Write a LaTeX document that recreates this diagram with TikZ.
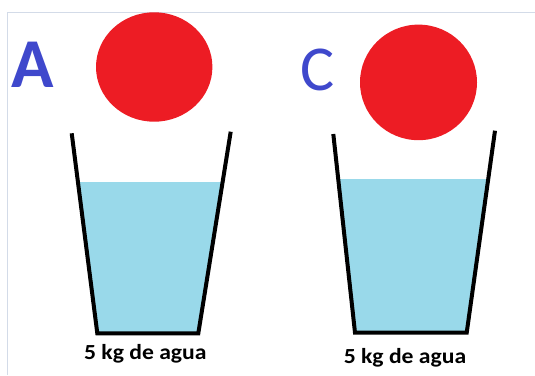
\documentclass[tikz,border=0pt]{standalone}
\usepackage{fontspec}
\setmainfont{Carlito}
\definecolor{ballred}{HTML}{ED1C24}
\definecolor{waterblue}{HTML}{99D9EA}
\definecolor{letterblue}{HTML}{3F48CC}
\definecolor{frameline}{HTML}{D3DBE8}
\tikzset{
  glassline/.style={draw=black,line width=4pt,line join=miter},
  ball/.style={fill=ballred},
  water/.style={fill=waterblue},
  bigletter/.style={text=letterblue,inner sep=0pt,anchor=base west},
  masslabel/.style={inner sep=0pt,anchor=base,font=\bfseries\fontsize{21.5}{21.5}\selectfont}
}
\newcommand{\masstext}{\scalebox{1.1}[1]{5 kg de agua}}
\begin{document}
\begin{tikzpicture}[x=1pt,y=-1pt]
\useasboundingbox (0,0) rectangle (535,375);
\draw[frameline,line width=1pt] (7.3,375) -- (7.3,12.3) -- (535,12.3);
% glass A
\coordinate (alt) at (71.7,133.3);
\coordinate (alb) at (97.3,333.3);
\coordinate (arb) at (198.3,333.3);
\coordinate (art) at (230.7,131.7);
\begin{scope}
\clip (0,182.3) rectangle (535,340);
\fill[water] (alt) -- (alb) -- (arb) -- (art) -- cycle;
\end{scope}
\draw[glassline] (alt) -- (alb) -- (arb) -- (art);
\fill[ball] (154.2,67) ellipse (58.2 and 54.7);
\node[bigletter,font=\bfseries\fontsize{70}{70}\selectfont] (letA) at (11.5,87.3) {A};
\node[masslabel] (massA) at (145.3,359) {\masstext};
% glass C
\coordinate (clt) at (333.3,134);
\coordinate (clb) at (355,332.7);
\coordinate (crb) at (466.7,332.7);
\coordinate (crt) at (495,130.7);
\begin{scope}
\clip (0,179.3) rectangle (535,340);
\fill[water] (clt) -- (clb) -- (crb) -- (crt) -- cycle;
\end{scope}
\draw[glassline] (clt) -- (clb) -- (crb) -- (crt);
\fill[ball] (418.5,82.4) ellipse (58.5 and 57.8);
\node[bigletter,font=\fontsize{64}{64}\selectfont] (letC) at (300,90) {C};
\node[masslabel] (massC) at (405,363) {\masstext};
\end{tikzpicture}
\end{document}
